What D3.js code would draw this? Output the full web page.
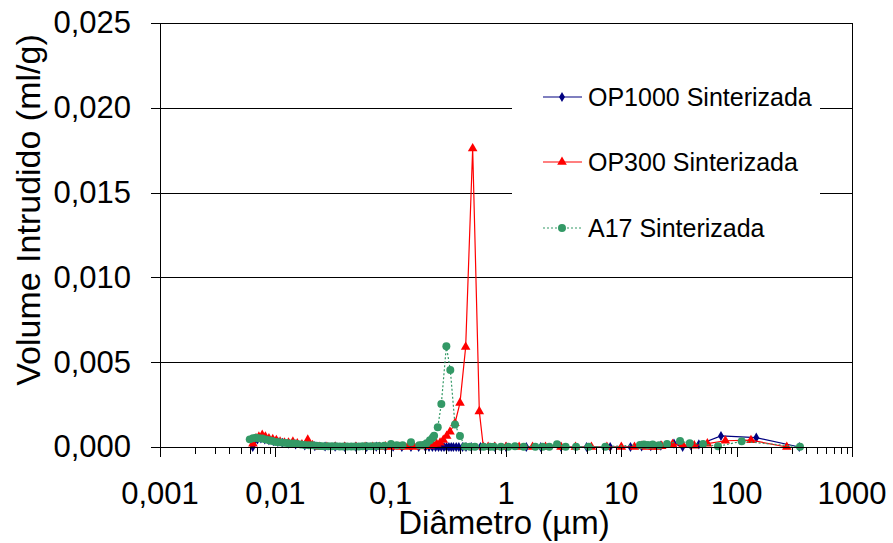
<!DOCTYPE html>
<html>
<head>
<meta charset="utf-8">
<script src="https://cdn.jsdelivr.net/npm/d3@7"></script>
<style>
  html, body { margin: 0; padding: 0; background: #fff; }
  svg { display: block; font-family: "Liberation Sans", Arial, sans-serif; }
</style>
</head>
<body>
<svg id="chart" width="893" height="543"></svg>
<script>
// Pore diameter (µm) and intruded volume (ml/g) for each sintered sample
const op1000Diam = [0.00637, 0.0066, 0.007, 0.0075, 0.0081, 0.0088, 0.0096, 0.0105, 0.0115, 0.013, 0.015, 0.018,
  0.022, 0.027, 0.033, 0.04, 0.05, 0.062, 0.075, 0.09, 0.105, 0.125, 0.15, 0.175, 0.2, 0.215, 0.23, 0.245, 0.26,
  0.275, 0.29, 0.305, 0.32, 0.335, 0.35, 0.37, 0.39, 0.42, 0.45, 0.5, 0.6, 0.8, 1.0, 1.5, 2, 3, 5, 8, 12, 15, 18,
  22, 28.6, 34, 40, 47, 73.1, 148, 349];
const op1000Vol = [0, 0.00035, 0.00045, 0.0005, 0.00045, 0.0004, 0.00035, 0.0003, 0.00025, 0.0002, 0.00015, 0.0001,
  0.00005, 0.00003, 0.00002, 0.00001, 0.00001, 0.00001, 0.00002, 0, 0.00002, 0, 0, 0, 0, 0, 0, 0, 0,
  0, 0, 0, 0, 0, 0, 0, 0, 0, 0, 0, 0, 0, 0, 0, 0, 0, 0, 0, 0, 0.00003, 0.00005,
  0.00008, 0.0002, 0.00001, 0.0001, 0.00015, 0.00065, 0.00055, 0];

const op300Diam = [0.0064, 0.0068, 0.0072, 0.0077, 0.0082, 0.0088, 0.0095, 0.0102, 0.011, 0.012, 0.013, 0.0142,
  0.0155, 0.017, 0.0185, 0.0191, 0.021, 0.024, 0.028, 0.033, 0.04, 0.05, 0.06, 0.07, 0.08, 0.09, 0.1, 0.12, 0.14,
  0.16, 0.18, 0.2, 0.22, 0.2344, 0.2506, 0.268, 0.286, 0.306, 0.327, 0.361, 0.399, 0.447, 0.514, 0.587, 0.636,
  0.7, 0.8, 1.0, 1.3, 1.7, 2.2, 3, 4, 5.5, 7.5, 10, 13, 15, 16.5, 18.8, 20, 22.4, 27.8, 34, 42.9, 55.7, 79.8, 133, 272];
const op300Vol = [0.0002, 0.0005, 0.0006, 0.0007, 0.0006, 0.0005, 0.00045, 0.0004, 0.0003, 0.00025, 0.00025, 0.0003,
  0.0002, 0.00015, 0.00015, 0.00042, 0.0001, 0, 0, 0, 0, 0, 0, 0, 0, 0.00003, 0, 0, 0,
  0, 0.00003, 0.00005, 0.00008, 0.00012, 0.00018, 0.00025, 0.00041, 0.00065, 0.0009, 0.0014, 0.0026, 0.0059, 0.0176, 0.0021, 0,
  0, 0, 0, 0, 0, 0, 0, 0, 0, 0, 0, 0, 0.00005, 0, 0.00002, 0, 0.00005, 0.00016, 0.00012, 0.00008, 0.0002, 0.00037, 0.0004, 0];

const a17Diam = [0.006, 0.0064, 0.0068, 0.0072, 0.0077, 0.0082, 0.0088, 0.0094, 0.0101, 0.0108, 0.0116, 0.0125,
  0.0134, 0.0144, 0.0155, 0.0167, 0.018, 0.0195, 0.021, 0.0227, 0.0245, 0.0265, 0.0287, 0.031, 0.0335, 0.0362,
  0.039, 0.042, 0.0455, 0.049, 0.053, 0.0572, 0.062, 0.0675, 0.073, 0.079, 0.088, 0.1007, 0.113, 0.127, 0.15,
  0.177, 0.19, 0.205, 0.219, 0.2315, 0.238, 0.256, 0.275, 0.304, 0.329, 0.361, 0.399, 0.441, 0.487, 0.538, 0.64,
  0.727, 0.787, 0.905, 1.047, 1.197, 1.424, 1.796, 2.08, 2.375, 2.77, 3.29, 4.05, 5.21, 7.26, 14.5, 15.7, 17.0,
  18.7, 21.2, 24.9, 32.3, 39.2, 51.1, 68.9, 110.6, 354];
const a17Vol = [0.00045, 0.00052, 0.00055, 0.00052, 0.0005, 0.00045, 0.0004, 0.00035, 0.0003, 0.00028, 0.00025, 0.00023,
  0.0002, 0.0002, 0.00018, 0.00015, 0.00012, 0.0001, 0.0001, 0.00008, 0.00006, 0.00005, 0.00005, 0.00004, 0.00004, 0.00003,
  0.00003, 0.00003, 0.00003, 0.00003, 0.00003, 0.00004, 0.00004, 0.00005, 0.00005, 0.00006, 0.00008, 0.00018, 0.0001, 0.0001, 0.00028,
  0.0001, 0.00012, 0.00022, 0.0004, 0.00055, 0.00067, 0.00116, 0.00254, 0.00594, 0.00454, 0.00132, 0.00065, 0.00003, 0.00002, 0.00002, 0.00002,
  0.00002, 0.00002, 0.00002, 0.00002, 0.00004, 0.00002, 0.00002, 0.00002, 0.00002, 0.00016, 0.00002, 0.00002, 0.00002, 0.00002, 0.00012, 0.00015, 0.00012,
  0.00015, 0.0001, 0.00018, 0.00035, 0.00022, 0.00018, 0.00004, 0.00034, 0.00001];

const seriesNames = ["OP1000 Sinterizada", "OP300 Sinterizada", "A17 Sinterizada"];
const yTickValues = [0, 0.005, 0.01, 0.015, 0.02, 0.025];
const yTickLabels = ["0,000", "0,005", "0,010", "0,015", "0,020", "0,025"];
const xTickValues = [0.001, 0.01, 0.1, 1, 10, 100, 1000];
const xTickLabels = ["0,001", "0,01", "0,1", "1", "10", "100", "1000"];
const xTitle = "Diâmetro (µm)";
const yTitle = "Volume Intrudido (ml/g)";

const svg = d3.select("#chart");
const plotLeft = 160, plotRight = 852, plotTop = 23, plotBottom = 447;

const x = d3.scaleLog().domain([0.001, 1000]).range([plotLeft, plotRight]);
const y = d3.scaleLinear().domain([0, 0.025]).range([plotBottom, plotTop]);

// horizontal gridlines
svg.append("g")
  .attr("transform", `translate(${plotLeft},0)`)
  .call(d3.axisLeft(y).tickValues(yTickValues.slice(1)).tickSize(-(plotRight - plotLeft)).tickFormat(""))
  .call(g => g.select(".domain").remove())
  .call(g => g.selectAll("line").attr("stroke", "#000").attr("stroke-width", 1).attr("shape-rendering", "crispEdges"));

// right edge of plot area
svg.append("line").attr("x1", plotRight + 0.5).attr("x2", plotRight + 0.5).attr("y1", plotTop).attr("y2", plotBottom)
  .attr("stroke", "#000").attr("shape-rendering", "crispEdges");

// legend panel sits over the gridlines
const legend = svg.append("g");
legend.append("rect").attr("x", 512).attr("y", 68).attr("width", 308).attr("height", 190).attr("fill", "#fff");

const series = [
  { name: seriesNames[0], d: op1000Diam, v: op1000Vol, color: "#000080", dash: null, marker: "diamond" },
  { name: seriesNames[1], d: op300Diam, v: op300Vol, color: "#ff0000", dash: null, marker: "triangle" },
  { name: seriesNames[2], d: a17Diam, v: a17Vol, color: "#339966", dash: "2,2", marker: "circle" }
];

const symbolFor = {
  diamond: d3.symbol().type(d3.symbolDiamond).size(30),
  triangle: d3.symbol().type(d3.symbolTriangle).size(40),
  circle: d3.symbol().type(d3.symbolCircle).size(50)
};

const line = d3.line().x(p => x(p[0])).y(p => y(p[1]));

series.forEach(s => {
  const pts = s.d.map((d, i) => [d, s.v[i]]);
  svg.append("path").datum(pts)
    .attr("d", line).attr("fill", "none").attr("stroke", s.color)
    .attr("stroke-width", 1.2).attr("stroke-dasharray", s.dash);
  svg.append("g").selectAll("path").data(pts).join("path")
    .attr("transform", p => `translate(${x(p[0])},${y(p[1])})`)
    .attr("d", symbolFor[s.marker]).attr("fill", s.color);
});

// axes
const yAxis = svg.append("g").attr("transform", `translate(${plotLeft},0)`)
  .call(d3.axisLeft(y).tickValues(yTickValues).tickSize(9).tickPadding(20)
    .tickFormat((d, i) => yTickLabels[i]));
yAxis.selectAll("line, path").attr("stroke", "#000").attr("shape-rendering", "crispEdges");
yAxis.selectAll("text").attr("font-size", 31).attr("fill", "#000").attr("font-family", "Liberation Sans, Arial, sans-serif");

const minorTicks = [];
for (let e = -3; e < 3; e++) for (let k = 1; k < 10; k++) minorTicks.push(k * Math.pow(10, e));
minorTicks.push(1000);

const xAxis = svg.append("g").attr("transform", `translate(0,${plotBottom})`)
  .call(d3.axisBottom(x).tickValues(minorTicks).tickSize(7).tickFormat(""));
xAxis.selectAll(".tick line").filter(d => xTickValues.some(v => Math.abs(v - d) < 1e-9)).attr("y2", 10);
xAxis.selectAll("line, path").attr("stroke", "#000").attr("shape-rendering", "crispEdges");
xAxis.select(".domain").attr("d", `M${plotLeft},0.5H${plotRight}`);

svg.append("g").selectAll("text").data(xTickValues).join("text")
  .attr("x", d => x(d)).attr("y", 504).attr("text-anchor", "middle")
  .attr("font-size", 31).text((d, i) => xTickLabels[i]);

// axis titles
svg.append("text").attr("x", 504).attr("y", 534).attr("text-anchor", "middle")
  .attr("font-size", 33).text(xTitle);
svg.append("text").attr("transform", "translate(40,210) rotate(-90)").attr("text-anchor", "middle")
  .attr("font-size", 34).text(yTitle);

// legend entries
const legendY = [97, 162, 228];
series.forEach((s, i) => {
  const g = legend.append("g").attr("transform", `translate(0,${legendY[i]})`);
  g.append("line").attr("x1", 543).attr("x2", 582).attr("y1", 0).attr("y2", 0)
    .attr("stroke", s.color).attr("stroke-width", 1.2).attr("stroke-dasharray", s.dash);
  g.append("path").attr("transform", "translate(562,0)").attr("d", symbolFor[s.marker]).attr("fill", s.color);
  g.append("text").attr("x", 588).attr("y", 0).attr("dy", "0.35em").attr("font-size", 25).text(s.name);
});
</script>
</body>
</html>
